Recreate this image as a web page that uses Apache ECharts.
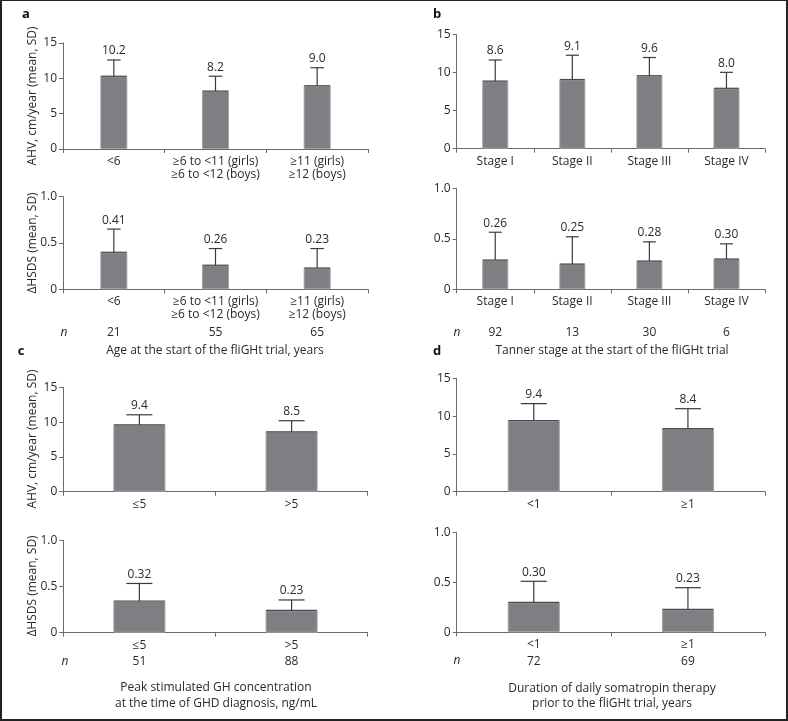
<!DOCTYPE html>
<html>
<head>
<meta charset="utf-8">
<script src="https://cdn.jsdelivr.net/npm/echarts@6/dist/echarts.min.js"></script>
<style>
html,body{margin:0;padding:0;background:#fff;}
#chart{width:788px;height:721px;}
</style>
</head>
<body>
<div id="chart"></div>
<script>
// ---- Data ----
const ageCats = ['<6', '≥6 to <11 (girls)\n≥6 to <12 (boys)', '≥11 (girls)\n≥12 (boys)'];
const ageAHV = [10.3, 8.2, 8.95];
const ageAHVsd = [2.3, 2.1, 2.55];
const ageAHVLabels = ['10.2', '8.2', '9.0'];
const ageHSDS = [0.40, 0.26, 0.23];
const ageHSDSsd = [0.25, 0.18, 0.21];
const ageHSDSLabels = ['0.41', '0.26', '0.23'];
const ageN = ['21', '55', '65'];

const tannerCats = ['Stage I', 'Stage II', 'Stage III', 'Stage IV'];
const tannerAHV = [8.9, 9.1, 9.6, 7.95];
const tannerAHVsd = [2.77, 3.2, 2.4, 2.1];
const tannerAHVLabels = ['8.6', '9.1', '9.6', '8.0'];
const tannerHSDS = [0.29, 0.25, 0.28, 0.30];
const tannerHSDSsd = [0.275, 0.27, 0.19, 0.15];
const tannerHSDSLabels = ['0.26', '0.25', '0.28', '0.30'];
const tannerN = ['92', '13', '30', '6'];

const ghCats = ['≤5', '>5'];
const ghAHV = [9.6, 8.6];
const ghAHVsd = [1.45, 1.6];
const ghAHVLabels = ['9.4', '8.5'];
const ghHSDS = [0.344, 0.243];
const ghHSDSsd = [0.19, 0.112];
const ghHSDSLabels = ['0.32', '0.23'];
const ghN = ['51', '88'];

const durCats = ['<1', '≥1'];
const durAHV = [9.4, 8.35];
const durAHVsd = [2.25, 2.63];
const durAHVLabels = ['9.4', '8.4'];
const durHSDS = [0.30, 0.23];
const durHSDSsd = [0.21, 0.216];
const durHSDSLabels = ['0.30', '0.23'];
const durN = ['72', '69'];

const FONT = '"Open Sans", "DejaVu Sans", sans-serif';
const FS = 12;
const TXT = '#2a2a2a';
const AXIS = '#6a6a6a';
const BAR = '#7e7e83';
const ERR = '#3a3a3a';

const panels = [
  {cats: ageCats, vals: ageAHV, sd: ageAHVsd, labels: ageAHVLabels, grid: {left: 63, top: 43, width: 305, height: 106}, max: 15, interval: 5, barW: 27},
  {cats: ageCats, vals: ageHSDS, sd: ageHSDSsd, labels: ageHSDSLabels, grid: {left: 63, top: 196.7, width: 305, height: 92.6}, max: 1, interval: 0.5, barW: 27, n: ageN, nOff: 31},
  {cats: tannerCats, vals: tannerAHV, sd: tannerAHVsd, labels: tannerAHVLabels, grid: {left: 456.7, top: 34.7, width: 308.3, height: 114}, max: 15, interval: 5, barW: 26},
  {cats: tannerCats, vals: tannerHSDS, sd: tannerHSDSsd, labels: tannerHSDSLabels, grid: {left: 456.7, top: 188.3, width: 308.3, height: 101}, max: 1, interval: 0.5, barW: 26, n: tannerN, nOff: 31},
  {cats: ghCats, vals: ghAHV, sd: ghAHVsd, labels: ghAHVLabels, grid: {left: 63.3, top: 387.3, width: 304.4, height: 104.4}, max: 15, interval: 5, barW: 52},
  {cats: ghCats, vals: ghHSDS, sd: ghHSDSsd, labels: ghHSDSLabels, grid: {left: 63.3, top: 540.5, width: 304.4, height: 92.2}, max: 1, interval: 0.5, barW: 52, n: ghN, nOff: 17},
  {cats: durCats, vals: durAHV, sd: durAHVsd, labels: durAHVLabels, grid: {left: 456.7, top: 378.3, width: 308.3, height: 113.4}, max: 15, interval: 5, barW: 52},
  {cats: durCats, vals: durHSDS, sd: durHSDSsd, labels: durHSDSLabels, grid: {left: 456.7, top: 532.3, width: 308.3, height: 100}, max: 1, interval: 0.5, barW: 52, n: durN, nOff: 17}
];

const grids = [], xAxes = [], yAxes = [], series = [];

function errRenderer(labels, barW) {
  return function (params, api) {
    const idx = api.value(0), mean = api.value(1), sd = api.value(2);
    const pm = api.coord([idx, mean]);
    const pt = api.coord([idx, mean + sd]);
    const half = barW / 4;
    const bh = barW / 2;
    return {
      type: 'group',
      children: [
        {type: 'line', shape: {x1: pm[0] - bh + 0.5, y1: pm[1], x2: pm[0] + bh - 0.5, y2: pm[1]}, style: {stroke: '#4a4a4e', lineWidth: 1.2}},
        {type: 'line', shape: {x1: pm[0], y1: pm[1], x2: pt[0], y2: pt[1]}, style: {stroke: ERR, lineWidth: 1.2}},
        {type: 'line', shape: {x1: pt[0] - half, y1: pt[1], x2: pt[0] + half, y2: pt[1]}, style: {stroke: ERR, lineWidth: 1.2}},
        {type: 'text', style: {text: labels[params.dataIndex], x: pt[0], y: pt[1] - 9, align: 'center', verticalAlign: 'middle', fontSize: FS, fontFamily: FONT, fill: TXT}}
      ]
    };
  };
}

panels.forEach((p, i) => {
  grids.push(Object.assign({containLabel: false}, p.grid));
  xAxes.push({
    type: 'category', gridIndex: i, data: p.cats,
    axisLine: {show: true, lineStyle: {color: AXIS, width: 1}},
    axisTick: {show: true, length: 4, lineStyle: {color: AXIS}},
    axisLabel: {color: TXT, fontSize: FS, fontFamily: FONT, margin: 6, lineHeight: 13, interval: 0}
  });
  yAxes.push({
    type: 'value', gridIndex: i, min: 0, max: p.max, interval: p.interval,
    axisLine: {show: true, lineStyle: {color: AXIS, width: 1}},
    axisTick: {show: true, length: 4, lineStyle: {color: AXIS}},
    splitLine: {show: false},
    axisLabel: {color: TXT, fontSize: FS, fontFamily: FONT, margin: 6,
      formatter: v => (p.max === 1 ? (v === 0 ? '0' : v.toFixed(1)) : String(v))}
  });
  series.push({
    type: 'bar', xAxisIndex: i, yAxisIndex: i, data: p.vals, barWidth: p.barW,
    itemStyle: {color: BAR, borderColor: '#a2a2a5', borderWidth: 1}, silent: true
  });
  series.push({
    type: 'custom', xAxisIndex: i, yAxisIndex: i,
    data: p.vals.map((v, k) => [k, v, p.sd[k]]),
    renderItem: errRenderer(p.labels, p.barW), silent: true, z: 5
  });
});

// n-count axes
panels.forEach((p, i) => {
  if (!p.n) return;
  xAxes.push({
    type: 'category', gridIndex: i, data: p.n, position: 'bottom', offset: p.nOff,
    axisLine: {show: false}, axisTick: {show: false},
    axisLabel: {color: TXT, fontSize: FS, fontFamily: FONT, margin: 6, interval: 0}
  });
});

function txt(x, y, text, extra) {
  return {type: 'text', x: x, y: y, style: Object.assign({text: text, align: 'center', verticalAlign: 'middle', fontSize: FS, fontFamily: FONT, fill: TXT}, extra || {})};
}

const graphics = [
  {type: 'rect', shape: {x: 1, y: 0, width: 786, height: 720}, style: {fill: 'none', stroke: '#222', lineWidth: 2}, z: 100},
  txt(26, 14, 'a', {fontWeight: 'bold', fontSize: 13, fill: '#111'}),
  txt(437, 14, 'b', {fontWeight: 'bold', fontSize: 13, fill: '#111'}),
  txt(21, 351, 'c', {fontWeight: 'bold', fontSize: 13, fill: '#111'}),
  txt(437, 351, 'd', {fontWeight: 'bold', fontSize: 13, fill: '#111'}),
  txt(64, 333, 'n', {fontStyle: 'italic'}),
  txt(457, 333, 'n', {fontStyle: 'italic'}),
  txt(65, 662, 'n', {fontStyle: 'italic'}),
  txt(457, 661, 'n', {fontStyle: 'italic'}),
  txt(215, 351, 'Age at the start of the fliGHt trial, years'),
  txt(612, 351, 'Tanner stage at the start of the fliGHt trial'),
  txt(216, 688, 'Peak stimulated GH concentration'),
  txt(216, 704, 'at the time of GHD diagnosis, ng/mL'),
  txt(612, 689, 'Duration of daily somatropin therapy'),
  txt(612, 704, 'prior to the fliGHt trial, years'),
  Object.assign(txt(33, 96, 'AHV, cm/year (mean, SD)'), {rotation: Math.PI / 2}),
  Object.assign(txt(33, 243, 'ΔHSDS (mean, SD)'), {rotation: Math.PI / 2}),
  Object.assign(txt(33, 439, 'AHV, cm/year (mean, SD)'), {rotation: Math.PI / 2}),
  Object.assign(txt(33, 586, 'ΔHSDS (mean, SD)'), {rotation: Math.PI / 2})
];

const chart = echarts.init(document.getElementById('chart'), null, {renderer: 'canvas'});
chart.setOption({
  animation: false,
  backgroundColor: '#fff',
  grid: grids,
  xAxis: xAxes,
  yAxis: yAxes,
  series: series,
  graphic: graphics
});
</script>
</body>
</html>
